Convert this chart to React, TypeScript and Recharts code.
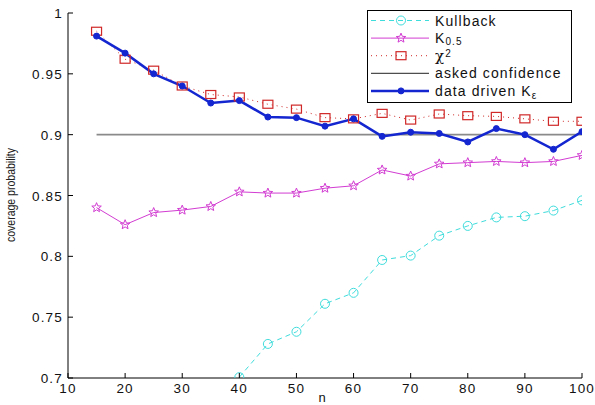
import React from 'react';
import { LineChart, Line, XAxis, YAxis, Legend } from 'recharts';

const nValues = [15, 20, 25, 30, 35, 40, 45, 50, 55, 60, 65, 70, 75, 80, 85, 90, 95, 100];
const kullback = [null, null, null, null, null, 0.7007, 0.728, 0.738, 0.761, 0.770, 0.797, 0.8006, 0.817, 0.825, 0.832, 0.833, 0.8376, 0.846];
const k05 = [0.840, 0.826, 0.836, 0.838, 0.841, 0.853, 0.852, 0.852, 0.856, 0.858, 0.871, 0.866, 0.876, 0.877, 0.878, 0.877, 0.878, 0.883];
const chi2 = [0.985, 0.962, 0.953, 0.940, 0.933, 0.931, 0.925, 0.921, 0.914, 0.913, 0.9175, 0.912, 0.917, 0.9156, 0.915, 0.913, 0.911, 0.911];
const asked = [0.9, 0.9, 0.9, 0.9, 0.9, 0.9, 0.9, 0.9, 0.9, 0.9, 0.9, 0.9, 0.9, 0.9, 0.9, 0.9, 0.9, 0.9];
const dataDriven = [0.981, 0.967, 0.950, 0.940, 0.926, 0.928, 0.9145, 0.914, 0.907, 0.913, 0.8986, 0.902, 0.901, 0.894, 0.905, 0.900, 0.888, 0.9025];

const xTicks = [10, 20, 30, 40, 50, 60, 70, 80, 90, 100];
const yTicks = [0.7, 0.75, 0.8, 0.85, 0.9, 0.95, 1];

const data = nValues.map((n, i) => ({
  n,
  kullback: kullback[i],
  k05: k05[i],
  chi2: chi2[i],
  asked: asked[i],
  dataDriven: dataDriven[i],
}));

const FONT = '"Liberation Sans", Arial, sans-serif';

const COLORS = {
  kullback: '#3fdcdc',
  k05: '#d23cd2',
  chi2: '#d02828',
  asked: '#8a8a8a',
  dataDriven: '#1426d0',
};

function Marker({ type, cx, cy, color }: any) {
  if (cx == null || cy == null) return <g />;
  if (type === 'circle') {
    return <circle cx={cx} cy={cy} r={4.5} fill="none" stroke={color} strokeWidth={1} />;
  }
  if (type === 'square') {
    return <rect x={cx - 5} y={cy - 4} width={10} height={8} fill="none" stroke={color} strokeWidth={1.2} />;
  }
  if (type === 'star') {
    const pts: string[] = [];
    for (let k = 0; k < 10; k++) {
      const r = k % 2 === 0 ? 5 : 2.2;
      const a = -Math.PI / 2 + (k * Math.PI) / 5;
      pts.push(`${cx + r * Math.cos(a)},${cy + r * Math.sin(a)}`);
    }
    return <polygon points={pts.join(' ')} fill="none" stroke={color} strokeWidth={1} />;
  }
  if (type === 'dot') {
    return <circle cx={cx} cy={cy} r={3} fill={color} stroke={color} />;
  }
  return <g />;
}

const dotFor = (type: string, color: string) => (p: any) => (
  <Marker key={`${type}-${p.index}`} type={type} cx={p.cx} cy={p.cy} color={color} />
);

const YTick = ({ x, y, payload }: any) => (
  <g>
    <line x1={x} y1={y} x2={x + 5} y2={y} stroke="#000" />
    <text x={x - 5} y={y} dy={5} textAnchor="end" fontSize={13.5} letterSpacing={1.2} fontFamily={FONT} fill="#111">
      {String(payload.value)}
    </text>
  </g>
);

const XTick = ({ x, y, payload }: any) => (
  <g>
    <line x1={x} y1={y} x2={x} y2={y - 5} stroke="#000" />
    <text x={x} y={y + 15} textAnchor="middle" fontSize={13.5} letterSpacing={1.2} fontFamily={FONT} fill="#111">
      {String(payload.value)}
    </text>
  </g>
);

const legendRows = [
  { key: 'kullback', marker: 'circle', dash: '5 4', width: 1, lineColor: COLORS.kullback },
  { key: 'k05', marker: 'star', dash: undefined, width: 1, lineColor: COLORS.k05 },
  { key: 'chi2', marker: 'square', dash: '1 4', width: 1, lineColor: COLORS.chi2 },
  { key: 'asked', marker: 'none', dash: undefined, width: 1, lineColor: '#222' },
  { key: 'dataDriven', marker: 'dot', dash: undefined, width: 2.5, lineColor: COLORS.dataDriven },
];

function legendLabel(key: string) {
  if (key === 'kullback') return <tspan>Kullback</tspan>;
  if (key === 'k05')
    return (
      <>
        <tspan>K</tspan>
        <tspan dy={2} fontSize={10}>0.5</tspan>
      </>
    );
  if (key === 'chi2')
    return (
      <>
        <tspan fontFamily='"DejaVu Serif", serif' fontSize={15}>χ</tspan>
        <tspan dy={-4} fontSize={10}>2</tspan>
      </>
    );
  if (key === 'asked') return <tspan>asked confidence</tspan>;
  return (
    <>
      <tspan>data driven K</tspan>
      <tspan dy={3} fontSize={10}>ε</tspan>
    </>
  );
}

const renderLegend = () => (
  <svg width={206} height={93} style={{ display: 'block' }}>
    <rect x={0.5} y={0.5} width={204} height={92} fill="#fff" stroke="#000" strokeWidth={1} />
    {legendRows.map((r, i) => {
      const cy = 10.5 + i * 17.6;
      return (
        <g key={r.key}>
          <line x1={4} y1={cy} x2={62} y2={cy} stroke={r.lineColor} strokeWidth={r.width} strokeDasharray={r.dash} />
          <Marker type={r.marker} cx={34} cy={cy} color={r.lineColor} />
          <text x={68} y={cy} dy={5} fontSize={14} letterSpacing={1.1} fontFamily={FONT} fill="#111">
            {legendLabel(r.key)}
          </text>
        </g>
      );
    })}
  </svg>
);

export default function App() {
  return (
    <div style={{ position: 'absolute', left: 0, top: 0, width: 595, height: 405, background: '#fff' }}>
      <LineChart width={595} height={405} data={data} margin={{ top: 13, right: 13, left: 0, bottom: 0 }}>
        <XAxis
          dataKey="n"
          type="number"
          domain={[10, 100]}
          ticks={xTicks}
          height={27}
          tickSize={0}
          tickMargin={0}
          tickLine={false}
          tick={<XTick />}
          axisLine={{ stroke: '#000' }}
          allowDataOverflow
        />
        <YAxis
          type="number"
          domain={[0.7, 1]}
          ticks={yTicks}
          width={68}
          tickSize={0}
          tickMargin={0}
          tickLine={false}
          tick={<YTick />}
          axisLine={{ stroke: '#000' }}
          allowDataOverflow
        />
        <Legend
          layout="vertical"
          align="center"
          verticalAlign="middle"
          content={renderLegend}
          wrapperStyle={{ position: 'absolute', left: 367, top: 10, width: 206, height: 93 }}
        />
        <Line
          dataKey="kullback"
          name="Kullback"
          stroke={COLORS.kullback}
          strokeWidth={1}
          strokeDasharray="5 4"
          dot={dotFor('circle', COLORS.kullback)}
          isAnimationActive={false}
        />
        <Line
          dataKey="k05"
          name="K0.5"
          stroke={COLORS.k05}
          strokeWidth={1}
          dot={dotFor('star', COLORS.k05)}
          isAnimationActive={false}
        />
        <Line
          dataKey="chi2"
          name="chi2"
          stroke={COLORS.chi2}
          strokeWidth={1}
          strokeDasharray="1 4"
          dot={dotFor('square', COLORS.chi2)}
          isAnimationActive={false}
        />
        <Line
          dataKey="asked"
          name="asked confidence"
          stroke={COLORS.asked}
          strokeWidth={1.6}
          dot={false}
          isAnimationActive={false}
        />
        <Line
          dataKey="dataDriven"
          name="data driven"
          stroke={COLORS.dataDriven}
          strokeWidth={2.5}
          dot={dotFor('dot', COLORS.dataDriven)}
          isAnimationActive={false}
        />
      </LineChart>
      <svg width={595} height={405} style={{ position: 'absolute', left: 0, top: 0, pointerEvents: 'none' }}>
        <text
          x={11}
          y={195}
          transform="rotate(-90 11 195)"
          textAnchor="middle"
          dominantBaseline="central"
          fontSize={12}
          textLength={94}
          lengthAdjust="spacingAndGlyphs"
          fontFamily='"Liberation Sans Narrow", "Arial Narrow", sans-serif'
          fill="#222"
        >
          coverage probability
        </text>
        <text x={322} y={402} textAnchor="middle" fontSize={13} fontFamily={FONT} fill="#111">
          n
        </text>
      </svg>
    </div>
  );
}
